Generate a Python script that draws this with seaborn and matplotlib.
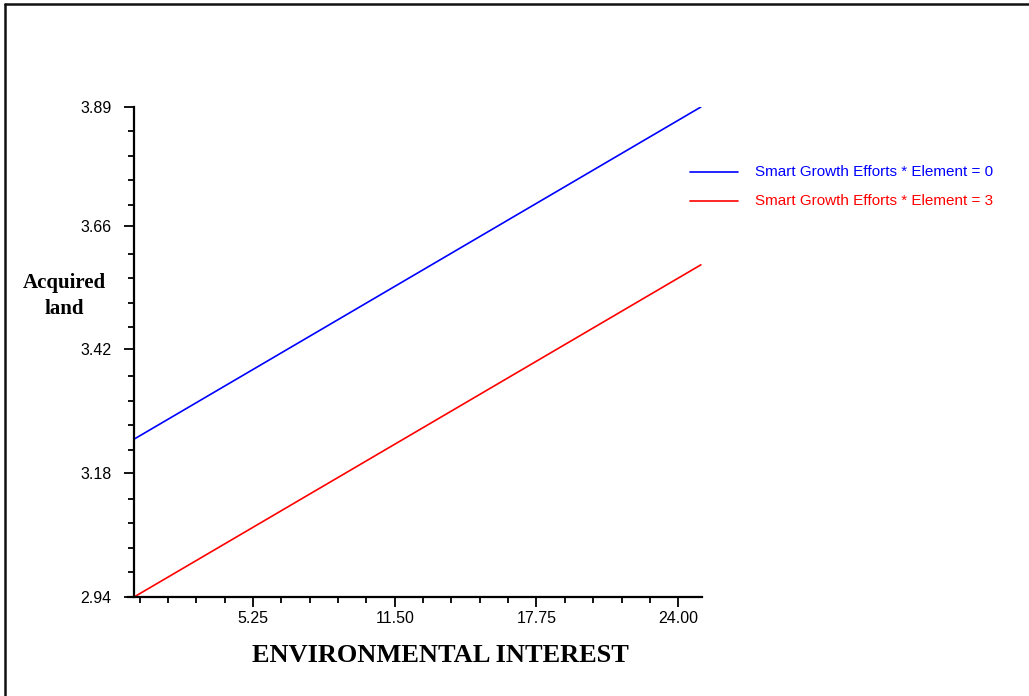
import numpy as np
import pandas as pd
import matplotlib
matplotlib.use("Agg")
import matplotlib.pyplot as plt
from matplotlib.lines import Line2D
from matplotlib.ticker import FixedLocator
import seaborn as sns

# ---- data ----
x_values = [0.0, 25.0]
blue_values = [3.246, 3.89]
red_values = [2.94, 3.584]
series_names = ["Smart Growth Efforts * Element = 0", "Smart Growth Efforts * Element = 3"]
series_colors = ["#0000ff", "#ff0000"]
x_ticks = [5.25, 11.50, 17.75, 24.00]
x_tick_labels = ["5.25", "11.50", "17.75", "24.00"]
y_ticks = [2.94, 3.18, 3.42, 3.66, 3.89]
y_tick_labels = ["2.94", "3.18", "3.42", "3.66", "3.89"]
x_label = "ENVIRONMENTAL INTEREST"
y_label = "Acquired\nland"

df = pd.DataFrame({
    "x": x_values * 2,
    "y": blue_values + red_values,
    "series": [series_names[0]] * 2 + [series_names[1]] * 2,
})

sns.set_theme(style="white")
plt.rcParams["font.family"] = ["Liberation Sans", "DejaVu Sans"]
plt.rcParams["text.color"] = "black"

fig = plt.figure(figsize=(10.29, 6.96), dpi=100)
ax = fig.add_axes([127.7 / 1029, (696 - 597) / 696, (702 - 127.7) / 1029, (597 - 107) / 696])

sns.lineplot(data=df, x="x", y="y", hue="series", palette=series_colors,
             ax=ax, legend=False, linewidth=1.2)

ax.set_xlim(-0.28, 25.05)
ax.set_ylim(2.94, 3.89)

for s in ["top", "right"]:
    ax.spines[s].set_visible(False)
ax.spines["left"].set_position(("data", 0))
for s in ["left", "bottom"]:
    ax.spines[s].set_color("black")
    ax.spines[s].set_linewidth(1.6)

ax.xaxis.set_major_locator(FixedLocator(x_ticks))
ax.set_xticklabels(x_tick_labels)
minor_x = [0.25 + 1.25 * k for k in range(20)]
ax.xaxis.set_minor_locator(FixedLocator([v for v in minor_x if v not in x_ticks]))
ax.yaxis.set_major_locator(FixedLocator(y_ticks))
ax.set_yticklabels(y_tick_labels)
step = (3.89 - 2.94) / 20
ax.yaxis.set_minor_locator(FixedLocator([2.94 + step * k for k in range(21) if k % 5 != 0]))

ax.tick_params(axis="both", which="major", direction="out", length=7, width=1.3,
               color="black", labelsize=11.5, labelcolor="black", bottom=True, left=True)
ax.tick_params(axis="both", which="minor", direction="out", length=4, width=1.3,
               color="black", bottom=True, left=True)
ax.tick_params(axis="x", which="major", pad=3)
ax.tick_params(axis="y", which="major", pad=9)
ax.set_xlabel("")
ax.set_ylabel("")
ax.grid(False)

fig.text(440 / 1029, 1 - 656 / 696, x_label, ha="center", va="center", color="black",
         family="Liberation Serif", weight="bold", fontsize=19)
fig.text(64 / 1029, 1 - 296 / 696, y_label, ha="center", va="center", color="black",
         family="Liberation Serif", weight="bold", fontsize=15, linespacing=1.35)

# legend
for i, (name, col) in enumerate(zip(series_names, series_colors)):
    yy = 1 - (172 + 29 * i) / 696
    fig.add_artist(Line2D([690 / 1029, 738 / 1029], [yy, yy], color=col, linewidth=1.2,
                          transform=fig.transFigure))
    fig.text(755 / 1029, yy, name, color=col, ha="left", va="center", fontsize=11)

# outer frame (left and top)
fig.add_artist(Line2D([5 / 1029, 5 / 1029], [0, 1 - 3.5 / 696], color="#111111", linewidth=1.8,
                      transform=fig.transFigure))
fig.add_artist(Line2D([5 / 1029, 1], [1 - 3.5 / 696, 1 - 3.5 / 696], color="#111111", linewidth=1.8,
                      transform=fig.transFigure))

fig.savefig("out.png", dpi=100)
